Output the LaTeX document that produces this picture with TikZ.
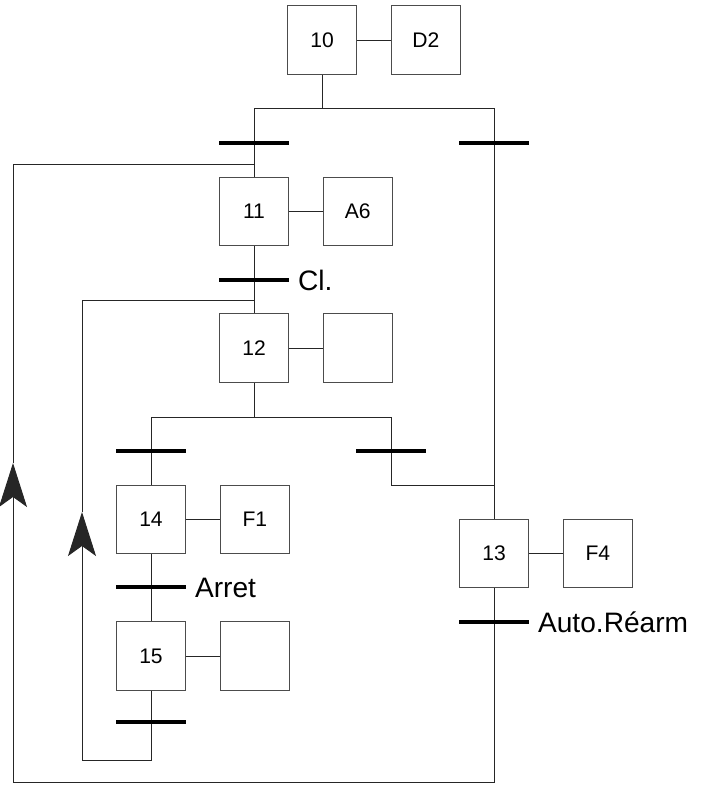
\documentclass[tikz,border=0pt]{standalone}
\usepackage{fontspec}
\setmainfont{Liberation Sans}
\usetikzlibrary{arrows.meta,positioning}

\begin{document}
\begin{tikzpicture}[x=0.025cm,y=-0.025cm,
  etape/.style={draw=black!70,line width=0.7pt,minimum width=1.72cm,minimum height=1.72cm,inner sep=0pt,font=\fontsize{15}{18}\selectfont},
  action/.style={etape,right=0.85cm of #1},
  trans/.style={fill=black,minimum width=1.75cm,minimum height=2.4pt,inner sep=0pt,outer sep=0pt},
  recept/.style={right=0.22cm of #1,inner sep=0pt,text height=14.3pt,text depth=0pt,font=\fontsize{20}{24}\selectfont},
  lien/.style={draw=black!85,line width=0.7pt},
  fleche/.style={-{Stealth[length=1.1cm,width=0.7cm,inset=0.25cm]}}]
\useasboundingbox (0,0) rectangle (712,794);

% etapes et actions
\node[etape] (e10) at (322,40) {10};
\node[action=e10] (a10) {D2};
\node[etape] (e11) at (254,211.5) {11};
\node[action=e11] (a11) {A6};
\node[etape] (e12) at (254,348) {12};
\node[action=e12] (a12) {};
\node[etape] (e14) at (151,519.5) {14};
\node[action=e14] (a14) {F1};
\node[etape] (e15) at (151,656) {15};
\node[action=e15] (a15) {};
\node[etape] (e13) at (494,553.5) {13};
\node[action=e13] (a13) {F4};

% points de jonction
\coordinate (d1) at (322,108);
\coordinate (r1) at (254,164);
\coordinate (r2) at (254,300);
\coordinate (d2) at (254,417);
\coordinate (d3) at (391,417);
\coordinate (j1) at (391,485);
\coordinate (c1) at (13,782);
\coordinate (f1) at (13,463);
\coordinate (c2) at (82,760);
\coordinate (f2) at (82,512);

% liaisons
\foreach \e in {10,11,12,14,15,13}
  \draw[lien] (e\e.east) -- (a\e.west);
\draw[lien] (e10.south) -- (d1);
\draw[lien] (e11.north) -- (e11.north |- d1) -- (e13.north |- d1) -- (e13.north);
\draw[lien] (e11.south) -- (e12.north);
\draw[lien] (e12.south) -- (d2);
\draw[lien] (e14.north) |- (d3) -- (j1) -- (e13.north |- j1);
\draw[lien] (e14.south) -- (e15.north);
\draw[lien] (e15.south) |- (c2);
\draw[lien,fleche] (c2) -- (f2);
\draw[lien] (f2) |- (r2);
\draw[lien] (e13.south) |- (c1);
\draw[lien,fleche] (c1) -- (f1);
\draw[lien] (f1) |- (r1);

% transitions
\node[trans] (t1) at (254,143) {};
\node[trans] (t2) at (494,143) {};
\node[trans] (t3) at (254,280) {};
\node[trans] (t4) at (151,451) {};
\node[trans] (t5) at (391,451) {};
\node[trans] (t6) at (151,587) {};
\node[trans] (t7) at (494,622) {};
\node[trans] (t8) at (151,722) {};
\node[recept=t3] (l3) {Cl.};
\node[recept=t6] (l6) {Arret};
\node[recept=t7] (l7) {Auto.Réarm};
\end{tikzpicture}
\end{document}
